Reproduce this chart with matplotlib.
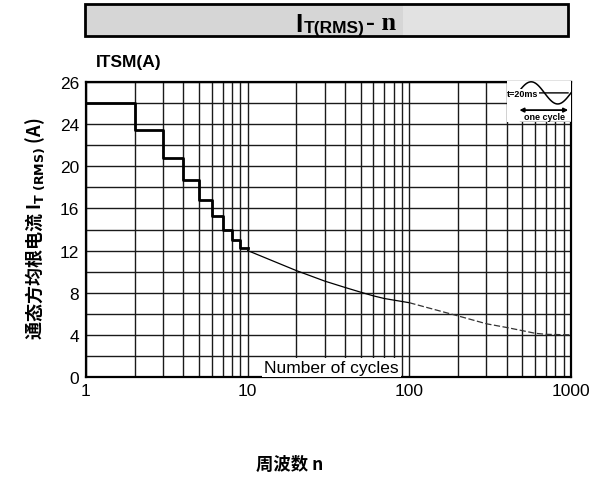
import matplotlib
import matplotlib.pyplot as plt
import numpy as np
from matplotlib.patches import Rectangle
from matplotlib.ticker import FixedLocator, NullFormatter

''' Surge current vs number of cycles chart (I_T(RMS) - n) '''

matplotlib.use('Agg')
plt.rcParams['font.family'] = ['Liberation Sans', 'Noto Sans CJK SC', 'DejaVu Sans']

# step part of the curve (cycles 1..10)
step_n = [1, 2, 3, 4, 5, 6, 7, 8, 9, 10]
step_i = [26.0, 23.4, 20.8, 18.7, 16.8, 15.3, 14.0, 13.0, 12.2, 12.2]

# smooth part of the curve (cycles 10..100 solid, 100..1000 dashed)
curve_n = [10, 20, 30, 40, 50, 60, 70, 80, 100]
curve_i = [12.0, 10.1, 9.1, 8.5, 8.05, 7.7, 7.45, 7.3, 7.05]
tail_n = [100, 200, 300, 400, 500, 600, 700, 1000]
tail_i = [7.05, 5.8, 5.05, 4.7, 4.4, 4.15, 4.05, 4.0]

ytick_pos = [0, 4, 8, 12, 16, 20, 24, 28]
ytick_labels = ['0', '4', '8', '12', '16', '20', '24', '26']
xtick_pos = [1, 10, 100, 1000]
xtick_labels = ['1', '10', '100', '1000']

W, H = 590, 485
fig = plt.figure(figsize=(W / 100, H / 100), dpi=100)
ax = fig.add_axes([86 / W, 1 - 378 / H, 485 / W, (378 - 83) / H])

# grid
ax.set_xscale('log')
ax.set_xlim(1, 1000)
ax.set_ylim(0, 28)
ax.xaxis.set_minor_locator(FixedLocator([k * 10 ** d for d in range(3) for k in range(2, 10)]))
ax.xaxis.set_minor_formatter(NullFormatter())
ax.yaxis.set_minor_locator(FixedLocator(np.arange(2, 28, 2)))
ax.set_xticks(xtick_pos, xtick_labels)
ax.set_yticks(ytick_pos, ytick_labels)
ax.tick_params(which='both', length=0, labelsize=12.5)
ax.tick_params(axis='x', pad=4)
ax.tick_params(axis='y', pad=5)
ax.grid(which='both', color='#1a1a1a', lw=1.0)
ax.set_axisbelow(True)
for s in ax.spines.values():
    s.set_linewidth(1.6)

# data
ax.step(step_n, step_i, where='post', color='black', lw=2.0, zorder=3)
ax.plot(curve_n, curve_i, color='black', lw=0.9, zorder=3)
ax.plot(tail_n, tail_i, color='#333333', lw=0.9, ls=(0, (5, 2)), zorder=3)

ax.text(33, 0.9, 'Number of cycles', ha='center', va='center',
        fontsize=12.5, zorder=4,
        bbox=dict(facecolor='white', edgecolor='none', pad=1.5))

# small sine-wave icon in the top right corner
ins = fig.add_axes([507 / W, 1 - 123 / H, 64 / W, 41 / H])
ins.set_xlim(0, 1)
ins.set_ylim(0, 1)
ins.axis('off')
ins.add_patch(Rectangle((0, 0), 1, 1, facecolor='white', edgecolor='none'))
t = np.linspace(0.17, 1.0, 100)
ins.plot(t, 0.71 + 0.27 * np.sin(2 * np.pi * (t - 0.17) / 0.83), color='black', lw=1.1)
ins.annotate('', xy=(0.15, 0.71), xytext=(1.0, 0.71),
             arrowprops=dict(arrowstyle='-|>', lw=1.0, color='black', mutation_scale=6))
ins.plot([0.0, 0.15], [0.71, 0.71], color='black', lw=1.0)
ins.text(0.25, 0.69, 't=20ms', fontsize=6.5, ha='center', va='center', fontweight='bold',
         bbox=dict(facecolor='white', edgecolor='none', pad=0.2))
ins.annotate('', xy=(0.15, 0.29), xytext=(1.0, 0.29),
             arrowprops=dict(arrowstyle='<|-|>', lw=1.3, color='black', mutation_scale=6))
ins.text(0.58, 0.13, 'one cycle', fontsize=6.5, ha='center', va='center', fontweight='bold')
ins.plot([0.2, 1.0], [0.01, 0.01], color='black', lw=1.0)

# title box
fig.patches.append(Rectangle((85 / W, 1 - 37 / H), 318 / W, 32 / H, transform=fig.transFigure,
                             facecolor='#d6d6d6', edgecolor='none'))
fig.patches.append(Rectangle((403 / W, 1 - 37 / H), 165 / W, 32 / H, transform=fig.transFigure,
                             facecolor='#e2e2e2', edgecolor='none'))
fig.patches.append(Rectangle((85 / W, 1 - 37 / H), 483 / W, 32 / H, transform=fig.transFigure,
                             facecolor='none', edgecolor='black', lw=2.0))
fig.text(295 / W, 1 - 32 / H, 'I', fontsize=19, fontweight='bold', va='baseline')
fig.text(304 / W, 1 - 33 / H, 'T(RMS)', fontsize=12.5, fontweight='bold', va='baseline')
fig.text(366 / W, 1 - 30 / H, '- n', fontsize=19, fontweight='bold',
         family='Liberation Serif', va='baseline')

# labels
fig.text(96 / W, 1 - 63 / H, 'ITSM(A)', fontsize=12.5, fontweight='bold', va='center')
fig.text(35 / W, 1 - 229 / H, '通态方均根电流 I$_{\\mathbf{T\\ (RMS)}}$ (A)', rotation=90,
         fontsize=13, fontweight='bold', ha='center', va='center',
         family=['Noto Sans CJK SC'])
fig.text(290 / W, 1 - 465 / H, '周波数 n', fontsize=12.5, fontweight='bold',
         ha='center', va='center', family=['Noto Sans CJK SC'])

fig.savefig('out.png', dpi=100)
